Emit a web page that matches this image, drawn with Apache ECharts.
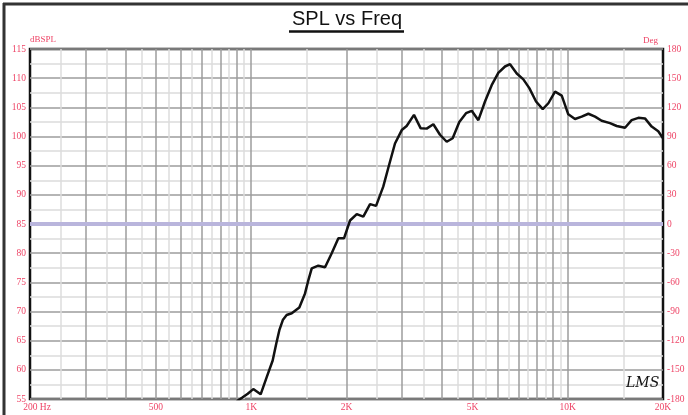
<!DOCTYPE html>
<html>
<head>
<meta charset="utf-8">
<script src="https://cdn.jsdelivr.net/npm/echarts@6/dist/echarts.min.js"></script>
<style>
  html, body { margin: 0; padding: 0; background: #fff; }
  #chart { width: 688px; height: 415px; }
</style>
</head>
<body>
<div id="chart"></div>
<script>
// ---- data ----
var freqHz = [900, 935, 975, 1015, 1071, 1120, 1169, 1200, 1227, 1260, 1294, 1343, 1419, 1479, 1514, 1553, 1629, 1711, 1796, 1885, 1964, 2052, 2155, 2260, 2374, 2480, 2613, 2710, 2846, 2990, 3098, 3268, 3432, 3584, 3762, 3948, 4146, 4330, 4544, 4772, 4974, 5220, 5478, 5751, 6035, 6336, 6573, 6901, 7241, 7563, 7941, 8338, 8686, 9119, 9574, 10040, 10545, 11070, 11620, 12200, 12800, 13600, 14280, 15170, 15920, 16720, 17540, 18420, 19320, 20000];
var splDb = [54.6, 55.2, 55.9, 56.7, 55.8, 58.8, 61.6, 64.5, 66.8, 68.6, 69.4, 69.7, 70.7, 73.1, 75.3, 77.4, 77.85, 77.6, 80.0, 82.55, 82.55, 85.6, 86.7, 86.25, 88.4, 88.1, 91.4, 94.6, 98.8, 101.1, 101.8, 103.7, 101.4, 101.35, 102.1, 100.3, 99.1, 99.7, 102.5, 104.0, 104.4, 102.8, 106.0, 108.8, 110.9, 112.0, 112.4, 110.8, 109.8, 108.3, 106.0, 104.7, 105.7, 107.7, 107.0, 103.8, 103.0, 103.4, 103.9, 103.4, 102.7, 102.3, 101.8, 101.5, 102.8, 103.2, 103.1, 101.7, 100.9, 99.7];

var darkGridHz = [300, 400, 500, 600, 700, 800, 900, 1000, 2000, 3000, 4000, 5000, 6000, 7000, 8000, 9000, 10000];
var lightGridHz = [250, 350, 450, 550, 650, 750, 850, 950, 1500, 2500, 3500, 4500, 5500, 6500, 7500, 8500, 9500, 15000];
var xTickHz = [200, 500, 1000, 2000, 5000, 10000, 20000];
var xTickLabels = ['200 Hz', '500', '1K', '2K', '5K', '10K', '20K'];
var zeroPhaseDb = 85;

// ---- build ----
var labelColor = '#ee4466';
var labelFont = 'Liberation Serif';

var pairs = freqHz.map(function (f, i) { return [f, splDb[i]]; });

var gridLines = [];
lightGridHz.forEach(function (f) {
  gridLines.push({ xAxis: f, lineStyle: { color: '#dcdcdc', width: 1.5, type: 'solid' }, label: { show: false } });
});
darkGridHz.forEach(function (f) {
  gridLines.push({ xAxis: f, lineStyle: { color: '#9c9c9c', width: 1.5, type: 'solid' }, label: { show: false } });
});

var tickLines = xTickHz.map(function (f, i) {
  return {
    xAxis: f,
    lineStyle: { color: 'rgba(0,0,0,0)', width: 0.1 },
    label: {
      show: true,
      position: 'start',
      distance: 3,
      formatter: xTickLabels[i],
      color: labelColor,
      fontFamily: labelFont,
      fontSize: 9.5,
      padding: i === 0 ? [0, 0, 0, 14] : 0
    }
  };
});

var chart = echarts.init(document.getElementById('chart'), null, { renderer: 'canvas' });
chart.setOption({
  animation: false,
  backgroundColor: '#fff',
  title: {
    text: 'SPL vs Freq',
    left: 292,
    top: 9,
    padding: 0,
    textStyle: { fontFamily: 'Liberation Sans', fontSize: 20, fontWeight: 'normal', color: '#111' }
  },
  grid: {
    left: 30, right: 25, top: 49, bottom: 16,
    show: true, borderColor: '#111', borderWidth: 2.5, backgroundColor: '#fff',
    containLabel: false
  },
  xAxis: {
    type: 'log',
    logBase: 10,
    min: 200,
    max: 20000,
    axisLine: { show: false },
    axisTick: { show: false },
    axisLabel: { show: false },
    splitLine: { show: false }
  },
  yAxis: [
    {
      type: 'value',
      min: 55, max: 115, interval: 5,
      name: 'dBSPL',
      nameLocation: 'end',
      nameGap: 4,
      nameTextStyle: { color: labelColor, fontFamily: labelFont, fontSize: 9, align: 'left' },
      axisLine: { show: false },
      axisTick: { show: false },
      axisLabel: { color: labelColor, fontFamily: labelFont, fontSize: 9.5, margin: 4 },
      splitLine: { show: true, lineStyle: { color: '#9c9c9c', width: 1.5 } },
      minorTick: { show: false, splitNumber: 2 },
      minorSplitLine: { show: true, lineStyle: { color: '#dcdcdc', width: 1.5 } }
    },
    {
      type: 'value',
      position: 'right',
      min: -180, max: 180, interval: 30,
      name: 'Deg',
      nameLocation: 'end',
      nameGap: 4,
      nameTextStyle: { color: labelColor, fontFamily: labelFont, fontSize: 9, align: 'right', padding: [0, 5, 0, 0] },
      axisLine: { show: false },
      axisTick: { show: false },
      axisLabel: { color: labelColor, fontFamily: labelFont, fontSize: 9.5, margin: 4 },
      splitLine: { show: false }
    }
  ],
  series: [
    {
      name: 'grid',
      type: 'line',
      data: [],
      z: 1,
      silent: true,
      markLine: {
        silent: true,
        symbol: ['none', 'none'],
        animation: false,
        data: gridLines
      }
    },
    {
      name: 'ticks',
      type: 'line',
      data: [],
      z: 6,
      silent: true,
      markLine: {
        silent: true,
        symbol: ['none', 'none'],
        animation: false,
        data: tickLines
      }
    },
    {
      name: 'zero',
      type: 'line',
      data: [],
      z: 2,
      silent: true,
      markLine: {
        silent: true,
        symbol: ['none', 'none'],
        animation: false,
        label: { show: false },
        lineStyle: { color: '#b9b5dc', width: 4, type: 'solid' },
        data: [{ yAxis: zeroPhaseDb }]
      }
    },
    {
      name: 'SPL',
      type: 'line',
      data: pairs,
      z: 5,
      showSymbol: false,
      symbol: 'none',
      smooth: false,
      clip: true,
      lineStyle: { color: '#111', width: 2.5 }
    }
  ],
  graphic: [
    { type: 'line', shape: { x1: 3, y1: 4, x2: 688, y2: 4 }, style: { stroke: '#333', lineWidth: 3 }, silent: true },
    { type: 'line', shape: { x1: 4, y1: 3, x2: 4, y2: 415 }, style: { stroke: '#333', lineWidth: 3 }, silent: true },
    { type: 'line', shape: { x1: 289, y1: 31.5, x2: 404, y2: 31.5 }, style: { stroke: '#111', lineWidth: 2.5 }, silent: true },
    { type: 'text', left: 626, top: 376, z: 10, style: { text: 'LMS', font: 'italic 14px "DejaVu Serif"', fill: '#111' }, silent: true }
  ]
});
</script>
</body>
</html>
